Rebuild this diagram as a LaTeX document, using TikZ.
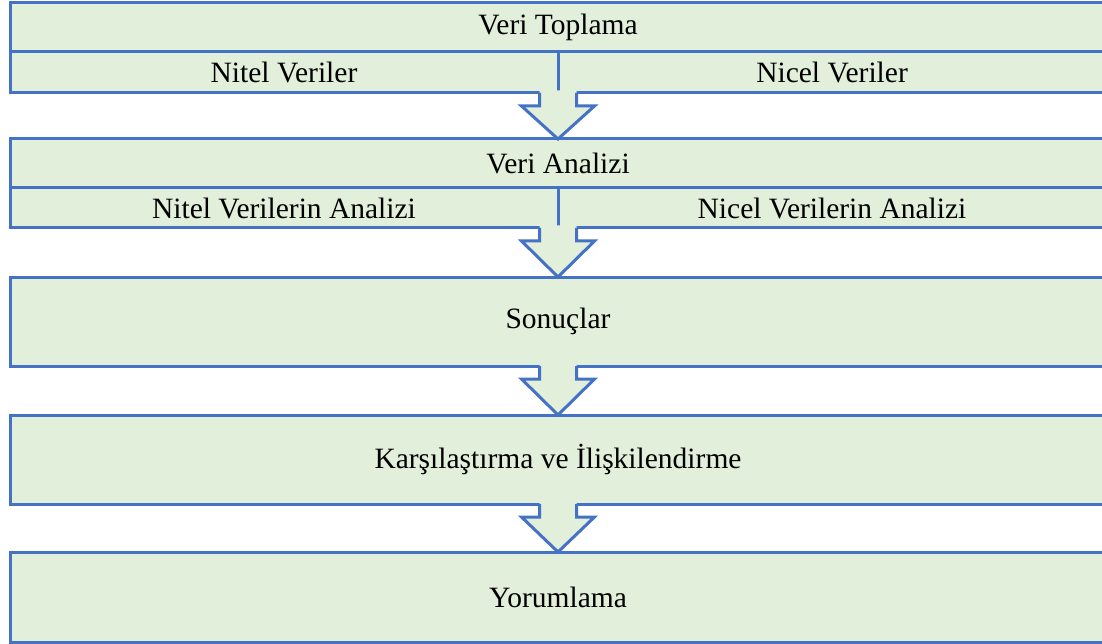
\documentclass[tikz,border=0pt]{standalone}
\usepackage{fontspec}
\setmainfont{Liberation Serif}
\usetikzlibrary{calc}
\definecolor{boxgreen}{HTML}{E2EFDA}
\definecolor{boxblue}{HTML}{4472C4}
\tikzset{
  cell/.style={draw=boxblue, fill=boxgreen, line width=3pt, inner sep=0pt, outer sep=0pt,
    font=\fontsize{29.5}{35}\selectfont, text=black},
  arrowline/.style={draw=boxblue, line width=3pt, line join=miter},
  arrowfill/.style={fill=boxgreen}
}
\newcommand\flowarrow[2]{%
  \fill[arrowfill] ($(#1)+(-18.5,-2.5)$) -- ($(#1)+(-18.5,13)$) -- ($(#1)+(-36.5,13)$) -- (#2)
    -- ($(#1)+(36.5,13)$) -- ($(#1)+(18.5,13)$) -- ($(#1)+(18.5,-2.5)$) -- cycle;
  \draw[arrowline] ($(#1)+(-18.5,0)$) -- ($(#1)+(-18.5,13)$) -- ($(#1)+(-36.5,13)$) -- (#2)
    -- ($(#1)+(36.5,13)$) -- ($(#1)+(18.5,13)$) -- ($(#1)+(18.5,0)$);
}
\begin{document}
\begin{tikzpicture}[x=1pt,y=-1pt]
\useasboundingbox (0,0) rectangle (1102,644);
\begin{scope}
\clip (0,0) rectangle (1102,644);
% Box 1
\node[cell, minimum width=1096pt, minimum height=49pt] (b1) at (558,27.5) {Veri Toplama};
\node[cell, minimum width=548pt, minimum height=41pt] (b1l) at (284,72.5) {Nitel Veriler};
\node[cell, minimum width=548pt, minimum height=41pt] (b1r) at (832,72.5) {Nicel Veriler};
% Box 2
\node[cell, minimum width=1096pt, minimum height=49pt] (b2) at (558,163.5) {Veri Analizi};
\node[cell, minimum width=548pt, minimum height=40pt] (b2l) at (284,208) {Nitel Verilerin Analizi};
\node[cell, minimum width=548pt, minimum height=40pt] (b2r) at (832,208) {Nicel Verilerin Analizi};
% Box 3-5
\node[cell, minimum width=1096pt, minimum height=89pt] (b3) at (558,321.5) {Sonuçlar};
\node[cell, minimum width=1096pt, minimum height=89pt] (b4) at (558,459.5) {Karşılaştırma ve İlişkilendirme};
\node[cell, minimum width=1096pt, minimum height=90pt] (b5) at (558,597) {Yorumlama};
% Arrows
\flowarrow{b1l.south east}{b2.north}
\flowarrow{b2l.south east}{b3.north}
\flowarrow{b3.south}{b4.north}
\flowarrow{b4.south}{b5.north}
\end{scope}
\end{tikzpicture}
\end{document}
